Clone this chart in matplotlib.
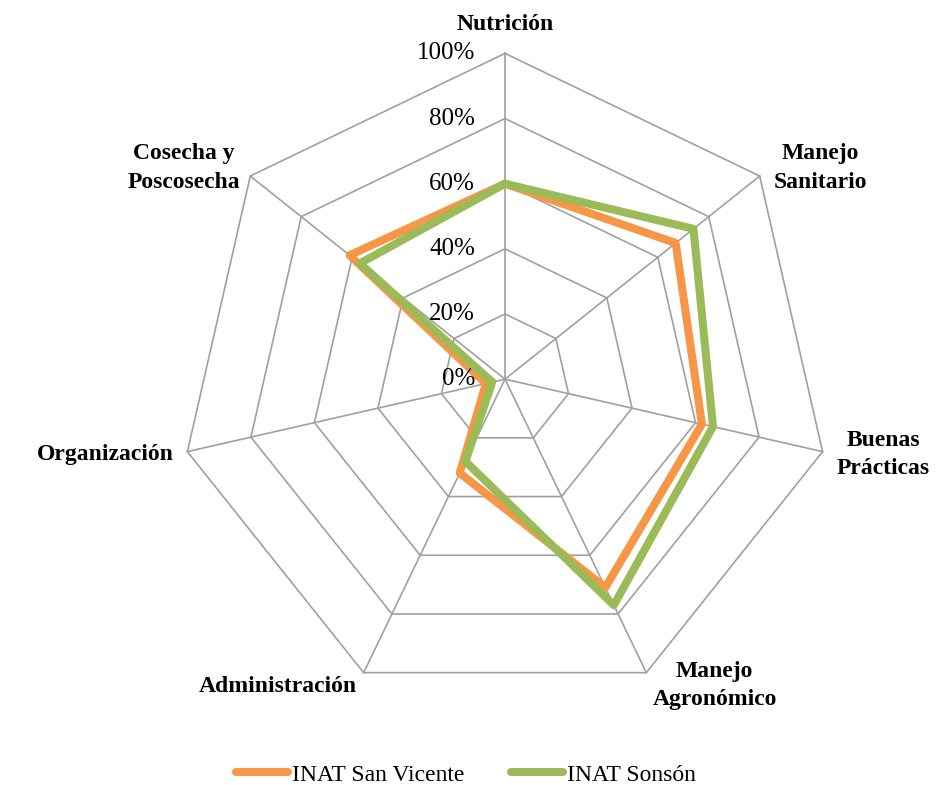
import numpy as np
import matplotlib.pyplot as plt

categorias = ['Nutrición', 'Manejo\nSanitario', 'Buenas\nPrácticas', 'Manejo\nAgronómico',
              'Administración', 'Organización', 'Cosecha y\nPoscosecha']
san_vicente = [0.60, 0.67, 0.62, 0.71, 0.32, 0.06, 0.61]
sonson = [0.60, 0.74, 0.655, 0.77, 0.28, 0.04, 0.57]
niveles = [0.0, 0.2, 0.4, 0.6, 0.8, 1.0]
etiquetas_niveles = ['0%', '20%', '40%', '60%', '80%', '100%']

plt.rcParams['font.family'] = 'Liberation Serif'

n = len(categorias)
angulos = np.linspace(0, 2 * np.pi, n, endpoint=False)
cerrado = np.append(angulos, angulos[0])

fig = plt.figure(figsize=(9.51, 7.85), dpi=100)
ax = fig.add_axes([0.531 - 0.343, 0.517 - 0.415, 0.686, 0.830], projection='polar')
ax.set_theta_zero_location('N')
ax.set_theta_direction(-1)
ax.set_ylim(0, 1)
ax.grid(False)
ax.spines['polar'].set_visible(False)
ax.set_xticks([])
ax.set_yticks([])
ax.patch.set_alpha(0)

gris = '#A0A0A0'
for nv in niveles[1:]:
    ax.plot(cerrado, [nv] * (n + 1), color=gris, lw=1.2, zorder=1, clip_on=False)
for a in angulos:
    ax.plot([a, a], [0, 1], color=gris, lw=1.2, zorder=1, clip_on=False)

ax.plot(cerrado, san_vicente + san_vicente[:1], color='#F79646', lw=5.8,
        label='INAT San Vicente', zorder=3, solid_capstyle='round')
ax.plot(cerrado, sonson + sonson[:1], color='#9BBB59', lw=5.8,
        label='INAT Sonsón', zorder=4, solid_capstyle='round')

for nv, et in zip(niveles, etiquetas_niveles):
    ax.annotate(et, xy=(0, nv), xytext=(-30, 0), textcoords='offset pixels',
                ha='right', va='center', fontsize=18, annotation_clip=False)

# posiciones de las etiquetas (desplazamiento en pixeles desde la punta del eje)
ajustes = [((0, 18), 'center', 'bottom'),
           ((14, 8), 'left', 'center'),
           ((14, -3), 'left', 'center'),
           ((6, -13), 'left', 'center'),
           ((-7, -14), 'right', 'center'),
           ((-14, -3), 'right', 'center'),
           ((-10, 8), 'right', 'center')]
for a, cat, (off, ha, va) in zip(angulos, categorias, ajustes):
    ax.annotate(cat, xy=(a, 1.0), xytext=off, textcoords='offset pixels',
                ha=ha, va=va, multialignment='center', fontsize=17,
                fontweight='bold', linespacing=1.45, annotation_clip=False)

fig.legend(loc='lower center', bbox_to_anchor=(0.49, -0.028), ncol=2, frameon=False,
           fontsize=17, handlelength=2.2, handletextpad=0.15, columnspacing=2.0)

fig.savefig('out.png', dpi=100, facecolor='white')
